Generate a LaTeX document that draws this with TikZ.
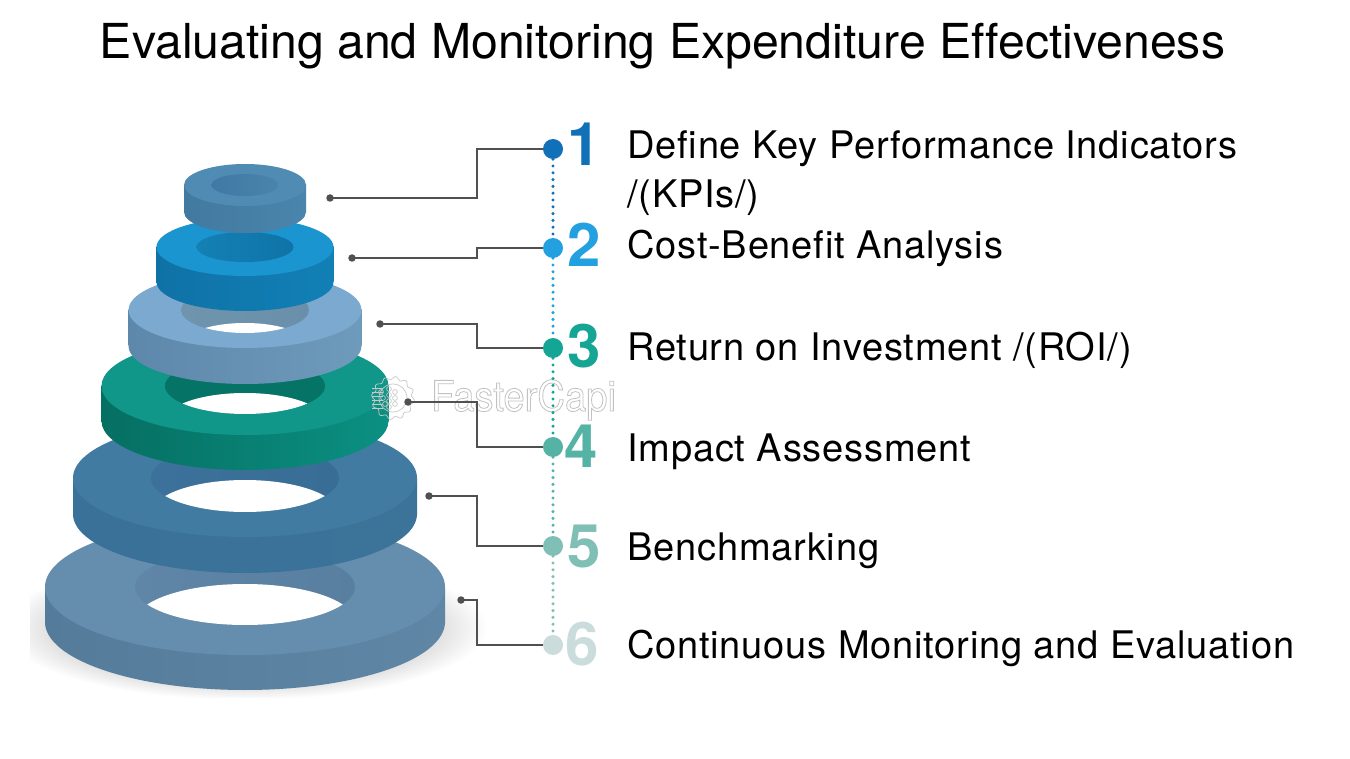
\documentclass[tikz,border=0pt]{standalone}
\usepackage{fontspec}
\setmainfont[Ligatures=CommonOff]{TeX Gyre Heros}
\newfontfamily\itemfont[LetterSpace=2.15,Ligatures=CommonOff]{TeX Gyre Heros}
\newfontfamily\wmfont[FakeStretch=0.91]{TeX Gyre Heros}
\definecolor{lineg}{HTML}{505050}
\definecolor{wmk}{HTML}{C8C8C8}
\definecolor{cA}{HTML}{1070B8}
\definecolor{cB}{HTML}{22A0E0}
\definecolor{cC}{HTML}{14A595}
\definecolor{cD}{HTML}{55B3A5}
\definecolor{cE}{HTML}{7FBFB5}
\definecolor{cF}{HTML}{CADCDC}
\tikzset{
 x=1pt,y=-1pt,
 enddot/.style={circle,fill=#1,inner sep=0pt,minimum size=20pt},
 tipdot/.style={circle,fill=lineg,inner sep=0pt,minimum size=7.5pt},
 leader/.style={draw=lineg,line width=2.6pt},
 dotchain/.style={draw=#1,line width=3.4pt,line cap=round,dash pattern=on 0pt off 6.8pt},
 numlab/.style={text=#1,font=\fontsize{60}{60}\selectfont\bfseries,inner sep=0pt,anchor=base},
 itemlab/.style={font=\fontsize{38}{38}\itemfont,text=black,inner sep=0pt,anchor=base west},
}
% \ring{cx}{cy}{rx}{ry}{h}{hole rx}{hole ry}  then \ringcol{top}{sideL}{sideR}{holeL}{holeR}{see-through 1/0}
\newcommand{\ring}[7]{\def\cx{#1}\def\cy{#2}\def\rx{#3}\def\ry{#4}\def\hh{#5}\def\hx{#6}\def\hy{#7}}
\newcommand{\ringcol}[6]{%
 \definecolor{rT}{HTML}{#1}\definecolor{rL}{HTML}{#2}\definecolor{rR}{HTML}{#3}\definecolor{hL}{HTML}{#4}\definecolor{hR}{HTML}{#5}%
 \shade[left color=rL,right color=rR] (\cx,\cy+\hh) ellipse[x radius=\rx,y radius=\ry];
 \shade[left color=rL,right color=rR] (\cx-\rx,\cy) rectangle (\cx+\rx,\cy+\hh);
 \fill[rT] (\cx,\cy) ellipse[x radius=\rx,y radius=\ry];
 \begin{scope}
  \clip (\cx,\cy) ellipse[x radius=\hx,y radius=\hy];
  \shade[left color=hL,right color=hR] (\cx-\hx,\cy-\hy) rectangle (\cx+\hx,\cy+\hy);
  \ifnum#6=1 \fill[white] (\cx,\cy+\hh) ellipse[x radius=\hx,y radius=\hy];\fi
 \end{scope}
}
\begin{document}
\begin{tikzpicture}
\useasboundingbox (0,0) rectangle (1350,759);
\fill[white] (0,0) rectangle (1350,759);
\node[font=\fontsize{48.2}{48.2}\selectfont,inner sep=0pt,anchor=base] (title) at (662.5,58.5) {Evaluating and Monitoring Expenditure Effectiveness};
% shadow
\begin{scope}
 \clip (30,540) rectangle (490,697);
 \foreach \k in {0,...,14}{
  \fill[black,opacity=0.009] (245,628) ellipse[x radius={242-\k*3.2},y radius={72-\k*0.9}];
 }
\end{scope}
% rings, bottom to top
\ring{245}{587}{200}{68}{35}{110}{38}\ringcol{658EAE}{557B9B}{5F87A5}{5F86A6}{587F9F}{1}
\ring{245}{478}{172}{59}{36}{94}{34}\ringcol{417BA2}{3A7199}{3B7399}{3C719B}{386D95}{1}
\ring{245}{386}{143.5}{49}{35}{80}{28}\ringcol{11968A}{056F62}{0B9082}{057467}{067367}{1}
\ring{245}{310}{116.5}{38}{36}{64}{23}\ringcol{7BA9CF}{5E88AB}{6E9ABB}{6F94AD}{6A8FAA}{1}
\ring{245}{247}{88.5}{29}{35}{48.5}{15}\ringcol{1A95CF}{0F72A6}{1180B6}{1480B4}{0F74A8}{0}
\ring{245}{185}{61}{21}{27}{33.5}{11}\ringcol{4F8BB3}{42799F}{4A85AD}{4079A3}{4A84AD}{0}
% watermark
\begin{scope}[draw=wmk,line width=.7pt]
 \draw plot[smooth cycle,samples at={0,4,...,356},variable=\t] ({393+(20+1.6*sin(12*\t))*cos(\t)},{398+(20+1.6*sin(12*\t))*sin(\t)});
 \draw (393,398) circle[radius=14];
 \foreach \a/\b in {381/392,383/398,385/404,389/389,389/395,389/401,389/407,395/392,395/398,395/404}{
  \draw (\a,\b) circle[radius=2.4];
 }
 \foreach \b in {388,392,396,400,404,408}{
  \draw (372,\b) -- (383,\b);
 }
\end{scope}
\node[inner sep=0pt,anchor=base west,font=\fontsize{42}{42}\wmfont] (wm) at (431,411) {\special{pdf:code q 1 Tr 0.8 w 0.76 0.76 0.76 RG}FasterCapi\special{pdf:code 0 Tr Q}};
% end dots
\node[enddot=cA] (d1) at (553,149) {};
\node[enddot=cB] (d2) at (553,248) {};
\node[enddot=cC] (d3) at (553,348) {};
\node[enddot=cD] (d4) at (553,447) {};
\node[enddot=cE] (d5) at (553,546) {};
\node[enddot=cF] (d6) at (553,645) {};
\draw[dotchain=cA] (d1) -- (d2);
\draw[dotchain=cB] (d2) -- (d3);
\draw[dotchain=cC] (d3) -- (d4);
\draw[dotchain=cD] (d4) -- (d5);
\draw[dotchain=cE] (d5) -- (d6);
% leaders
\node[tipdot] (e1) at (330,198) {};
\node[tipdot] (e2) at (352,258) {};
\node[tipdot] (e3) at (380,324) {};
\node[tipdot] (e4) at (408,402) {};
\node[tipdot] (e5) at (429,496) {};
\node[tipdot] (e6) at (461,600) {};
\coordinate (v1) at (477,149);
\coordinate (v2) at (477,248);
\coordinate (v3) at (477,348);
\coordinate (v4) at (477,447);
\coordinate (v5) at (477,546);
\coordinate (v6) at (477,645);
\foreach \i in {1,...,6}{
 \draw[leader] (e\i.center) -| (v\i) -- (d\i);
}
% numbers
\node[numlab=cA] (n1) at (584,166) {1};
\node[numlab=cB] (n2) at (584,267) {2};
\node[numlab=cC] (n3) at (584,367) {3};
\node[numlab=cD] (n4) at (581,467) {4};
\node[numlab=cE] (n5) at (584,567) {5};
\node[numlab=cF] (n6) at (582,665) {6};
% items
\node[itemlab] (t1) at (627,159) {Define Key Performance Indicators};
\node[itemlab] (t1b) at (627,208) {/(KPIs/)};
\node[itemlab] (t2) at (627,259) {Cost-Benefit Analysis};
\node[itemlab] (t3) at (627,360) {Return on Investment /(ROI/)};
\node[itemlab] (t4) at (627,461) {Impact Assessment};
\node[itemlab] (t5) at (627,560) {Benchmarking};
\node[itemlab] (t6) at (627,658) {Continuous Monitoring and Evaluation};
\end{tikzpicture}
\end{document}
